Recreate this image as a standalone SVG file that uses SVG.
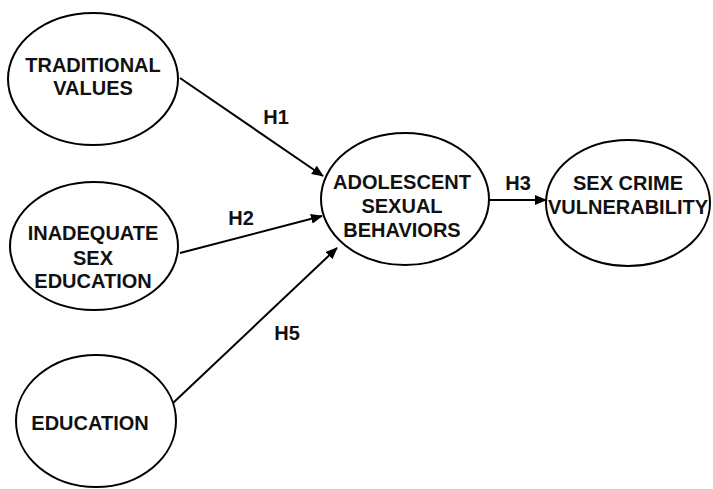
<svg xmlns="http://www.w3.org/2000/svg" width="713" height="489" viewBox="0 0 713 489">
<style>
.n{fill:#fff;stroke:#000;stroke-width:2}
.t{font-family:"Liberation Sans",Arial,sans-serif;font-weight:bold;font-size:20px;fill:#111;text-anchor:middle}
.c{stroke:#000;stroke-width:2;fill:none;marker-end:url(#ah)}
</style>
<defs>
<marker id="ah" viewBox="0 0 12 10" refX="11" refY="5" markerWidth="12" markerHeight="10" markerUnits="userSpaceOnUse" orient="auto">
<path d="M0,0 L12,5 L0,10 Z" fill="#000"/>
</marker>
</defs>
<rect width="713" height="489" fill="#fff"/>
<g id="connectors">
<line class="c" x1="180" y1="78" x2="323" y2="176"/>
<line class="c" x1="180" y1="253" x2="322" y2="216"/>
<line class="c" x1="173" y1="403" x2="337" y2="248"/>
<line class="c" x1="488" y1="200" x2="546" y2="200"/>
<text class="t" x="276" y="124">H1</text>
<text class="t" x="241" y="225">H2</text>
<text class="t" x="287" y="340">H5</text>
<text class="t" x="518" y="190">H3</text>
</g>
<g id="traditional">
<ellipse class="n" cx="93" cy="79" rx="85" ry="66"/>
<text class="t" x="93" y="72">TRADITIONAL</text>
<text class="t" x="93" y="95">VALUES</text>
</g>
<g id="inadequate">
<ellipse class="n" cx="94" cy="246" rx="84" ry="64"/>
<text class="t" x="93" y="240">INADEQUATE</text>
<text class="t" x="93" y="265">SEX</text>
<text class="t" x="93" y="288">EDUCATION</text>
</g>
<g id="education">
<ellipse class="n" cx="96" cy="421" rx="80" ry="66"/>
<text class="t" x="90" y="430">EDUCATION</text>
</g>
<g id="adolescent">
<ellipse class="n" cx="405" cy="199" rx="84" ry="66"/>
<text class="t" x="402" y="189">ADOLESCENT</text>
<text class="t" x="402" y="213">SEXUAL</text>
<text class="t" x="402" y="237">BEHAVIORS</text>
</g>
<g id="sexcrime">
<ellipse class="n" cx="628" cy="203" rx="82" ry="63"/>
<text class="t" x="628" y="190">SEX CRIME</text>
<text class="t" x="628" y="214">VULNERABILITY</text>
</g>
</svg>
